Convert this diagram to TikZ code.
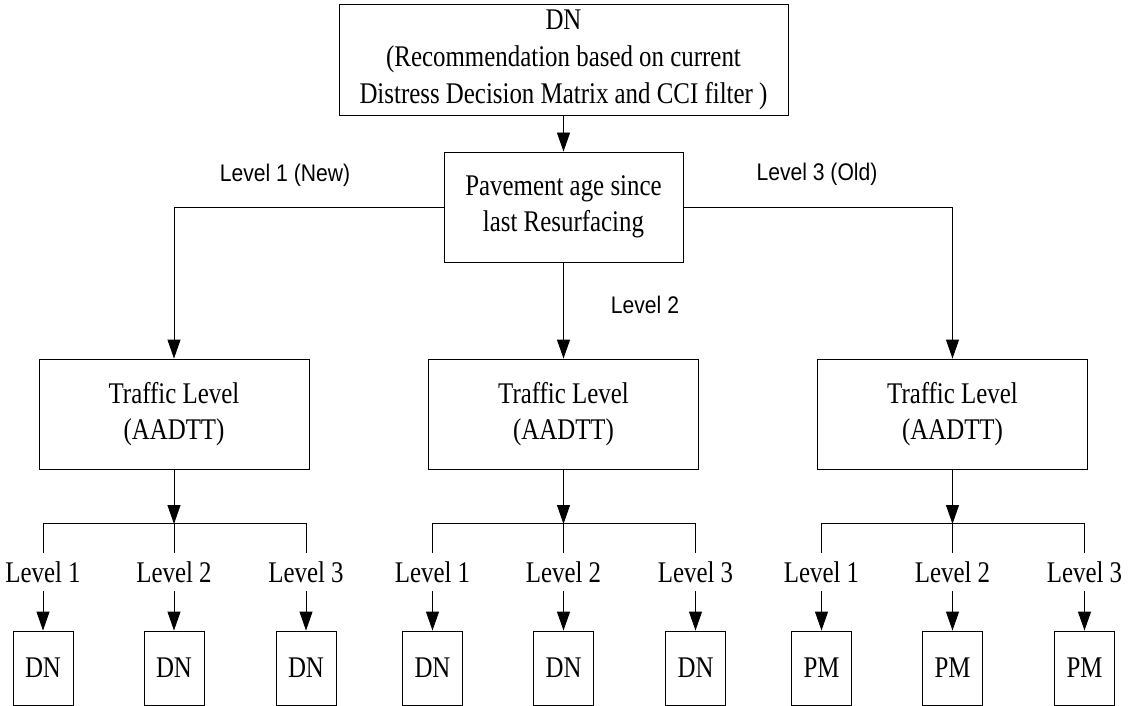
\documentclass[tikz,border=0pt]{standalone}
\usepackage{fontspec}
\setmainfont[FakeStretch=0.83]{Liberation Serif}
\newfontfamily\narrowsans[FakeStretch=0.88]{Liberation Sans}
\usetikzlibrary{arrows.meta}
\begin{document}
\begin{tikzpicture}[x=1pt,y=-1pt,
  box/.style={draw, line width=0.9pt, inner sep=0pt, align=center, font=\fontsize{30}{36}\selectfont},
  tbox/.style={box, minimum width=270pt, minimum height=110pt},
  sbox/.style={box, minimum width=60pt, minimum height=74pt},
  lvl/.style={inner sep=0pt, minimum height=38pt, text height=20pt, text depth=0pt, font=\fontsize{30}{36}\selectfont},
  elab/.style={inner sep=0pt, text height=17pt, text depth=0pt, font=\narrowsans\fontsize{24}{28}\selectfont},
  arr/.style={-{Triangle[length=19pt,width=13pt]}, line width=0.9pt},
  ln/.style={line width=0.9pt}]
\useasboundingbox (0,0) rectangle (1128,706);

\node[box, minimum width=449pt, minimum height=111pt, font=\fontsize{30}{37}\selectfont] (top) at (563.5,59.5)
  {DN\\(Recommendation based on current\\Distress Decision Matrix and CCI filter )};
\node[box, minimum width=239pt, minimum height=110pt] (pav) at (563.5,207)
  {Pavement age since\\last Resurfacing};

\foreach \g/\cx/\lab in {1/174/DN, 2/563.5/DN, 3/952.5/PM} {
  \node[tbox] (t\g) at (\cx,414) {Traffic Level\\(AADTT)};
  \coordinate (j\g) at (\cx,524);
  \foreach \k/\dx in {1/-131,2/0,3/132} {
    \node[lvl] (l\g\k) at (\cx+\dx,572) {Level \k};
    \node[sbox] (b\g\k) at (\cx+\dx,668) {\lab};
    \draw[arr] (l\g\k) -- (b\g\k);
  }
  \draw[arr] (t\g) -- (j\g);
  \draw[ln] (l\g1.north) -- ++(0,-29) -| (l\g3.north);
  \draw[ln] (j\g) -- (l\g2.north);
}

\draw[arr] (top) -- (pav);
\draw[arr] (pav.west) -| (t1.north);
\draw[arr] (pav.east) -| (t3.north);
\draw[arr] (pav) -- (t2);

\node[elab] (e1) at (285,173) {Level 1 (New)};
\node[elab] (e2) at (645,305) {Level 2};
\node[elab] (e3) at (817,172) {Level 3 (Old)};
\end{tikzpicture}
\end{document}
